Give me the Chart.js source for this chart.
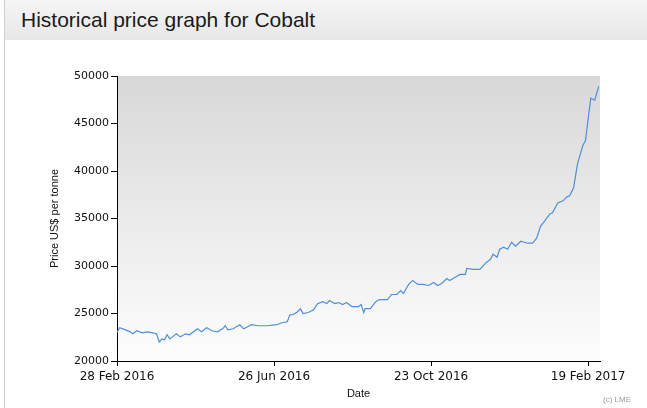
<!DOCTYPE html>
<html>
<head>
<meta charset="utf-8">
<script src="https://cdn.jsdelivr.net/npm/chart.js@4/dist/chart.umd.min.js"></script>
<style>
  html, body { margin: 0; padding: 0; background: #fff; }
  #wrap { position: relative; width: 647px; height: 408px; overflow: hidden; }
  #frame { position: absolute; left: 4px; top: 0; width: 1px; height: 408px; background: #cfcfcf; }
  #header {
    position: absolute; left: 5px; top: 0; width: 642px; height: 40px;
    background: linear-gradient(#f5f5f5, #e7e7e7);
    font-family: "Liberation Sans", Arial, sans-serif; font-size: 21px; color: #1a1a1a;
  }
  #header span { position: absolute; left: 16px; top: 8px; }
  #copy {
    position: absolute; left: 603px; top: 395px;
    font-family: "Liberation Sans", Arial, sans-serif; font-size: 8px; color: #999;
  }
  canvas { position: absolute; left: 0; top: 0; }
</style>
</head>
<body>
<div id="wrap">
  <canvas id="priceChart" width="647" height="408"></canvas>
  <div id="frame"></div>
  <div id="header"><span>Historical price graph for Cobalt</span></div>
  <div id="copy">(c) LME</div>
</div>
<script>
// days since 28 Feb 2016, and LME cobalt price (US$ per tonne)
const days = [0, 2, 6, 10, 12, 15, 19, 23, 27, 30, 32, 34, 36, 38, 40, 42, 45, 48, 52, 55,
  59, 61, 64, 68, 72, 76, 80, 82, 84, 88, 93, 96, 99, 102, 107, 114, 121, 125, 129, 131,
  133, 136, 139, 141, 145, 149, 152, 156, 159, 161, 165, 168, 171, 174, 178, 183, 185, 187, 188, 192,
  196, 199, 205, 208, 212, 215, 217, 221, 224, 228, 232, 236, 240, 243, 246, 250, 252, 256, 260, 264,
  265, 270, 275, 279, 283, 285, 288, 290, 293, 296, 299, 302, 306, 311, 315, 318, 321, 324, 328, 330,
  334, 338, 341, 343, 346, 349, 353, 355, 359, 362, 365];
const prices = [23000, 23500, 23300, 23070, 22860, 23180, 22970, 23070, 22970, 22860, 22000, 22330, 22230, 22760, 22330, 22540, 22860, 22540, 22860, 22760,
  23180, 23390, 23070, 23500, 23180, 23070, 23390, 23710, 23290, 23390, 23820, 23390, 23600, 23820, 23710, 23710, 23820, 24030, 24130, 24870,
  24870, 25090, 25500, 25000, 25100, 25400, 26040, 26250, 26040, 26360, 26040, 26150, 25940, 26150, 25720, 25720, 25940, 25090, 25510, 25510,
  26250, 26470, 26470, 27000, 27000, 27420, 27100, 28060, 28480, 28060, 28060, 27950, 28270, 27950, 28160, 28690, 28480, 28800, 29120, 29120,
  29750, 29650, 29650, 30280, 30700, 31240, 30920, 31770, 31980, 31770, 32500, 32080, 32610, 32400, 32400, 32930, 34200, 34730, 35480, 35590,
  36640, 36860, 37280, 37390, 38240, 40770, 42680, 43210, 47660, 47450, 48900];
const tickDays = [0, 119, 238, 357];
const tickLabels = ['28 Feb 2016', '26 Jun 2016', '23 Oct 2016', '19 Feb 2017'];

const points = days.map((d, i) => ({ x: d, y: prices[i] }));

// grey-to-white fill behind the plot
const plotBackground = {
  id: 'plotBackground',
  beforeDraw(chart) {
    const { ctx, chartArea: a } = chart;
    const g = ctx.createLinearGradient(0, a.top, 0, a.bottom);
    g.addColorStop(0, '#d8d8d8');
    g.addColorStop(1, '#fdfdfd');
    ctx.save();
    ctx.fillStyle = g;
    ctx.fillRect(a.left, a.top, a.right - a.left, a.bottom - a.top);
    ctx.restore();
  }
};

new Chart(document.getElementById('priceChart'), {
  type: 'line',
  data: {
    datasets: [{
      data: points,
      borderColor: '#4f8fd6',
      borderWidth: 1.2,
      pointRadius: 0,
      tension: 0,
      fill: false
    }]
  },
  options: {
    responsive: false,
    animation: false,
    layout: { padding: { left: 48, top: 76, right: 47, bottom: 0 } },
    plugins: { legend: { display: false }, tooltip: { enabled: false } },
    scales: {
      x: {
        type: 'linear',
        min: 0,
        max: 366,
        afterFit: s => { s.height = 47; },
        afterBuildTicks: s => { s.ticks = tickDays.map(v => ({ value: v })); },
        grid: { drawOnChartArea: false, color: '#000', tickLength: 5, tickColor: '#000' },
        border: { color: '#000', width: 1 },
        ticks: {
          color: '#111',
          font: { family: 'DejaVu Sans', size: 12 },
          padding: 4,
          maxRotation: 0,
          autoSkip: false,
          callback: v => tickLabels[tickDays.indexOf(v)]
        },
        title: {
          display: true,
          text: 'Date',
          color: '#111',
          font: { family: 'Liberation Sans', size: 11 },
          padding: { top: 0, bottom: 7 }
        }
      },
      y: {
        min: 20000,
        max: 50000,
        afterFit: s => { s.width = 69; },
        grid: { drawOnChartArea: false, color: '#000', tickLength: 6, tickColor: '#000' },
        border: { color: '#000', width: 1 },
        ticks: {
          stepSize: 5000,
          color: '#111',
          font: { family: 'DejaVu Sans', size: 11 },
          padding: 2,
          callback: v => String(v)
        },
        title: {
          display: true,
          text: 'Price US$ per tonne',
          color: '#111',
          font: { family: 'Liberation Sans', size: 11 },
          padding: 0
        }
      }
    }
  },
  plugins: [plotBackground]
});
</script>
</body>
</html>
